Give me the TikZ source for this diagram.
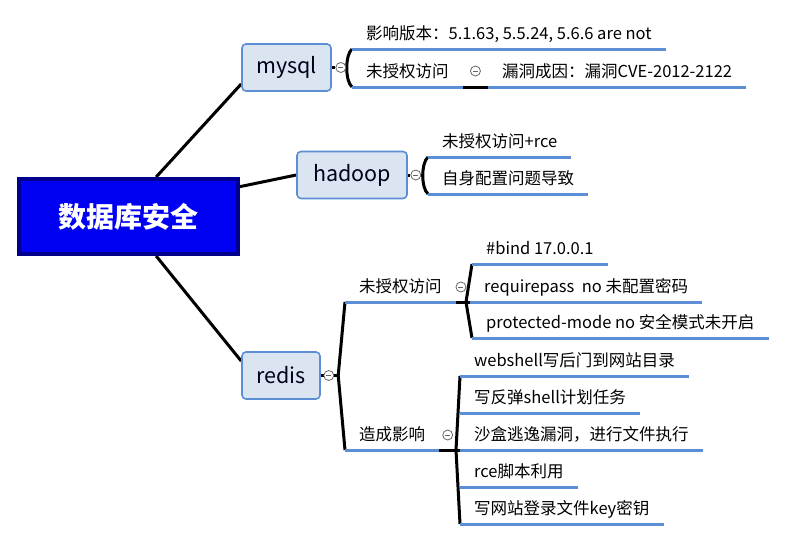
\documentclass[tikz,border=0pt]{standalone}
\usepackage{fontspec}
\setmainfont{Noto Sans CJK SC}
\usetikzlibrary{calc,backgrounds}
\definecolor{rootblue}{HTML}{0000F2}
\definecolor{rootedge}{HTML}{00008C}
\definecolor{topicfill}{HTML}{DBE5F1}
\definecolor{topicedge}{HTML}{5B8ED4}
\definecolor{ulblue}{HTML}{5B8ED4}
\tikzset{
  root/.style={draw=rootedge, line width=4pt, fill=rootblue, text=white,
    font=\fontsize{28}{32}\selectfont\bfseries, minimum width=219, minimum height=75},
  topic/.style={draw=topicedge, line width=1.6pt, fill=topicfill, rounded corners=4pt,
    text=black!90!blue, font=\fontsize{21.5}{25}\selectfont, minimum height=47},
  leaf/.style={anchor=south west, inner xsep=14pt, inner ysep=5pt, text height=13pt,
    text depth=4pt, font=\fontsize{16.5}{19}\selectfont},
  uline/.style={draw=ulblue, line width=3pt},
  link/.style={draw=black, line width=3pt},
  fold/.style={circle, draw=black!60, fill=white, line width=0.8pt, inner sep=0pt,
    minimum size=10pt, path picture={\draw[black!60, line width=0.8pt]
      ($(path picture bounding box.west)+(2.5,0)$) -- ($(path picture bounding box.east)+(-2.5,0)$);}},
}
\begin{document}
\begin{tikzpicture}[x=1pt, y=-1pt]
  \useasboundingbox (0,0) rectangle (802,541);
  % main topics
  \node[root] (root) at (128.5,216.5) {数据库安全};
  \node[topic, minimum width=89] (mysql) at (286.5,67.5) {mysql};
  \node[topic, minimum width=110] (hadoop) at (352,175) {hadoop};
  \node[topic, minimum width=78] (redis) at (281,375.5) {redis};
  \node[fold] (mfold) at ($(mysql.east)+(9,0)$) {};
  \node[fold] (hfold) at ($(hadoop.east)+(8,0)$) {};
  \node[fold] (rfold) at ($(redis.east)+(8,0)$) {};
  % mysql
  \node[leaf] (m1) at (352,49) {影响版本：5.1.63, 5.5.24, 5.6.6 are not};
  \node[leaf] (m2) at (352,87) {未授权访问};
  \node[leaf] (m21) at (488,87) {漏洞成因：漏洞CVE-2012-2122};
  \node[fold] (m2fold) at ($(m2.south east)!0.5!(m21.south west)+(0,-16)$) {};
  % hadoop
  \node[leaf] (h1) at (428,157) {未授权访问+rce};
  \node[leaf] (h2) at (428,194) {自身配置问题导致};
  % redis
  \node[leaf] (r1) at (345,302) {未授权访问};
  \node[leaf] (r11) at (472,264) {\#bind 17.0.0.1};
  \node[leaf] (r12) at (470,302) {requirepass\ \ no 未配置密码};
  \node[leaf] (r13) at (472,338) {protected-mode no 安全模式未开启};
  \coordinate (r1j) at (466,302);
  \node[fold] (r1fold) at ($(r1.south east)!0.5!(r1j)+(0,-15)$) {};
  \node[leaf] (r2) at (345,450) {造成影响};
  \node[leaf] (r21) at (460,376) {webshell写后门到网站目录};
  \node[leaf] (r22) at (460,413) {写反弹shell计划任务};
  \node[leaf] (r23) at (460,450) {沙盒逃逸漏洞，进行文件执行};
  \node[leaf] (r24) at (460,487) {rce脚本利用};
  \node[leaf] (r25) at (460,524) {写网站登录文件key密钥};
  \coordinate (r2j) at (456,450);
  \node[fold] (r2fold) at ($(r2.south east)!0.5!(r2j)+(0,-15)$) {};
  \coordinate (rj) at ($(rfold.east)+(4,0)$);
  \begin{scope}[on background layer]
    \draw[link] (root.55) -- (mysql.-160);
    \draw[link] (root.15) -- (hadoop.west);
    \draw[link] (root.-55) -- (redis.160);
    % brackets
    \draw[link] (mysql.east) -- (mfold) -- ++(6,0);
    \draw[link] (m1.south west) .. controls +(-7,6) and +(-7,-6) .. (m2.south west);
    \draw[link] (m2.south east) -- (m21.south west);
    \draw[link] (hadoop.east) -- (hfold) -- ++(7,0);
    \draw[link] (h1.south west) .. controls +(-7,6) and +(-7,-6) .. (h2.south west);
    \draw[link] (redis.east) -- (rj);
    \draw[link] (r1.south west) -- (rj) -- (r2.south west);
    \draw[link] (r1.south east) -- (r1j) -- (r12.south west);
    \draw[link] (r11.south west) -- (r1j) -- (r13.south west);
    \draw[link] (r2.south east) -- (r2j) -- (r23.south west);
    \draw[link] (r21.south west) -- (r2j) -- (r25.south west);
    % underlines
    \foreach \n in {m1,m2,m21,h1,h2,r1,r11,r12,r13,r2,r21,r22,r23,r24,r25}
      \draw[uline] (\n.south west) -- (\n.south east);
  \end{scope}
\end{tikzpicture}
\end{document}
